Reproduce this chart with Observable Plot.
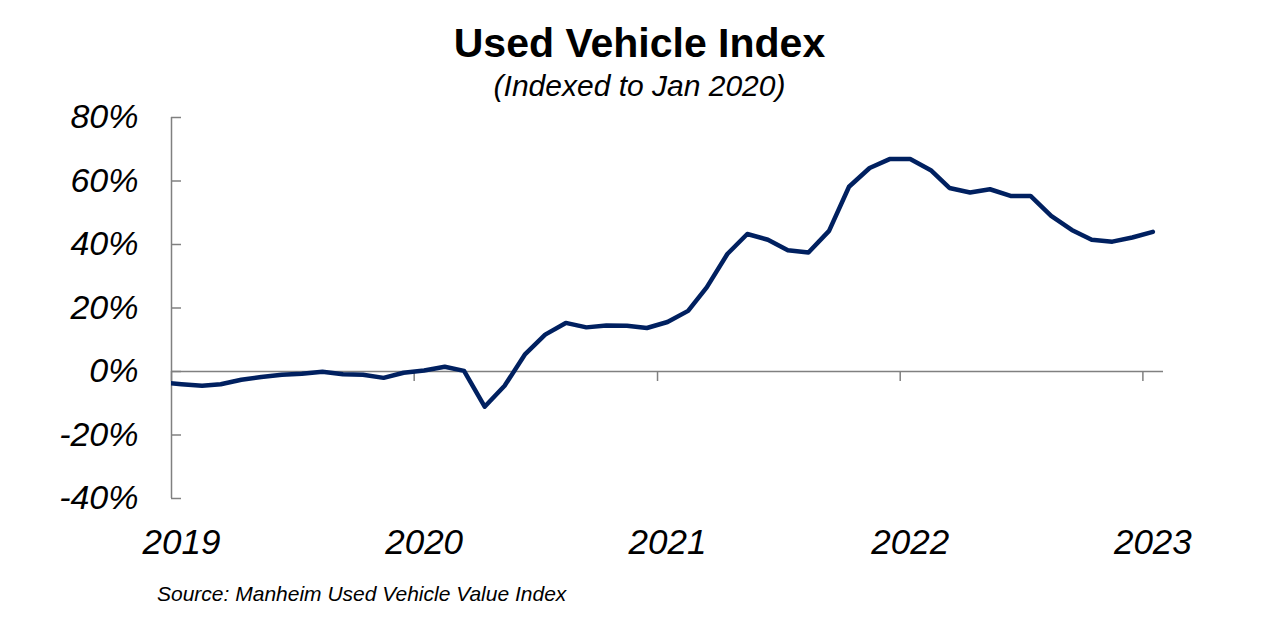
<!DOCTYPE html>
<html><head><meta charset="utf-8">
<script src="https://cdn.jsdelivr.net/npm/d3@7"></script>
<script src="https://cdn.jsdelivr.net/npm/@observablehq/plot@0.6"></script>
<style>
body{margin:0;background:#fff;}
#wrap{position:relative;width:1279px;height:635px;font-family:"Liberation Sans",Arial,sans-serif;color:#000;overflow:hidden;}
#title{position:absolute;left:0;width:1279px;top:23px;text-align:center;font-weight:bold;font-size:41px;line-height:41px;}
#subtitle{position:absolute;left:0;width:1279px;top:71px;text-align:center;font-style:italic;font-size:30px;line-height:30px;}
#chart{position:absolute;left:0;top:88px;}
#caption{position:absolute;left:157px;top:583px;font-style:italic;font-size:21px;line-height:21px;}
</style></head>
<body><div id="wrap">
<div id="chart"></div>
<div id="title">Used Vehicle Index</div>
<div id="subtitle">(Indexed to Jan 2020)</div>
<div id="caption">Source: Manheim Used Vehicle Value Index</div>
</div>
<script>
const months = [
  "2018-12",
  "2019-01","2019-02","2019-03","2019-04","2019-05","2019-06","2019-07","2019-08","2019-09","2019-10","2019-11","2019-12",
  "2020-01","2020-02","2020-03","2020-04","2020-05","2020-06","2020-07","2020-08","2020-09","2020-10","2020-11","2020-12",
  "2021-01","2021-02","2021-03","2021-04","2021-05","2021-06","2021-07","2021-08","2021-09","2021-10","2021-11","2021-12",
  "2022-01","2022-02","2022-03","2022-04","2022-05","2022-06","2022-07","2022-08","2022-09","2022-10","2022-11","2022-12",
  "2023-01"
];
const values = [
  -3.4,
  -4.0, -4.5, -4.0, -2.6, -1.7, -1.0, -0.7, -0.1, -0.9, -1.0, -2.0, -0.4,
  0.3, 1.5, 0.2, -11.1, -4.5, 5.5, 11.6, 15.3, 13.9, 14.5, 14.4, 13.7,
  15.6, 19.1, 26.5, 37.0, 43.3, 41.5, 38.2, 37.5, 44.3, 58.2, 64.1, 66.9,
  66.9, 63.4, 57.8, 56.4, 57.4, 55.3, 55.3, 49.0, 44.6, 41.5, 40.9, 42.2,
  44.0
];
const yTicks = [-40, -20, 0, 20, 40, 60, 80];
const yearLabels = ["2019", "2020", "2021", "2022", "2023"];
const domainMonths = ["2019-01", "2023-02"];

const parseMonth = d3.utcParse("%Y-%m");
const parseYear = d3.utcParse("%Y");
const midMonth = d => d3.utcDay.offset(d, 15);

const data = months.map((m, i) => ({date: midMonth(parseMonth(m)), value: values[i]}));
const yearStarts = yearLabels.map(parseYear);
const yearMids = yearStarts.map(midMonth);
const xDomain = domainMonths.map(parseMonth);

const axisGray = "#808080";

const chart = Plot.plot({
  width: 1279,
  height: 482,
  marginLeft: 171,
  marginRight: 116,
  marginTop: 29,
  marginBottom: 72,
  style: {fontFamily: "'Liberation Sans', Arial, sans-serif", background: "transparent", color: "#000"},
  x: {type: "utc", domain: xDomain},
  y: {domain: [-40, 80]},
  marks: [
    Plot.ruleY([0], {stroke: axisGray, strokeWidth: 1.5}),
    Plot.ruleX([xDomain[0]], {stroke: axisGray, strokeWidth: 1.5}),
    Plot.ruleX(yearStarts, {x: d => d, y1: 0, y2: 0, insetBottom: -10, stroke: axisGray, strokeWidth: 1.5}),
    Plot.axisY(yTicks, {tickSize: -10, tickPadding: 43, stroke: axisGray, strokeWidth: 1.5, fontSize: 34, fontStyle: "italic", tickFormat: d => d + "%", label: null}),
    Plot.axisX(yearMids, {tickSize: 0, tickPadding: 31, fontSize: 35, fontStyle: "italic", tickFormat: d3.utcFormat("%Y"), label: null}),
    Plot.line(data, {x: "date", y: "value", stroke: "#002060", strokeWidth: 4.5, clip: true})
  ]
});
document.getElementById("chart").appendChild(chart);
</script>
</body></html>
